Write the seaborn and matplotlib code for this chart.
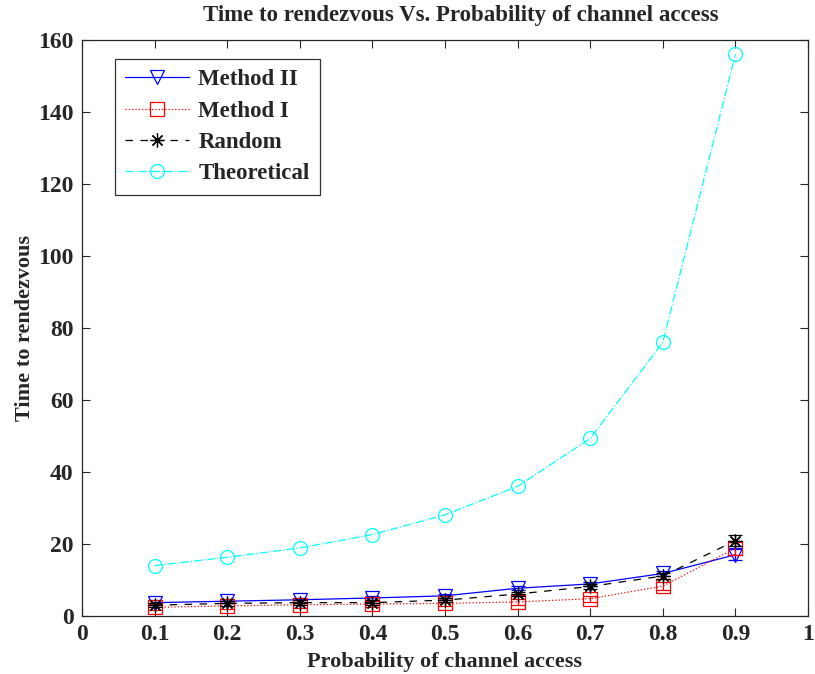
import seaborn as sns
import matplotlib.pyplot as plt
from matplotlib.lines import Line2D
import pandas as pd

prob = [0.1, 0.2, 0.3, 0.4, 0.5, 0.6, 0.7, 0.8, 0.9]
method2 = [3.7, 4.1, 4.5, 5.0, 5.6, 7.7, 8.9, 11.8, 17.0]
method2_err = [0.6, 0.6, 0.6, 0.6, 0.6, 0.6, 0.6, 0.8, 1.5]
method1 = [2.4, 2.8, 3.1, 3.3, 3.5, 3.9, 4.8, 8.3, 18.8]
method1_err = [0.8, 0.8, 0.8, 0.8, 0.8, 0.8, 0.8, 1.0, 1.8]
random_ = [3.0, 3.5, 3.7, 3.7, 4.4, 6.1, 8.2, 11.1, 20.9]
random_err = [0.6, 0.6, 0.6, 0.6, 0.6, 0.6, 0.6, 0.8, 1.5]
theory = [14.0, 16.3, 18.9, 22.6, 28.1, 36.0, 49.3, 76.0, 156.0]

series = [
    ("Method II", method2, method2_err, "blue", "v", "-"),
    ("Method I", method1, method1_err, "red", "s", ":"),
    ("Random", random_, random_err, "black", (8, 2, 0), (0, (6, 6))),
    ("Theoretical", theory, None, "cyan", "o", "-."),
]

sns.set_style("ticks")
plt.rcParams["font.family"] = ["Liberation Serif", "DejaVu Serif"]
plt.rcParams["font.weight"] = "bold"

fig = plt.figure(figsize=(8.15, 6.74), dpi=100)
ax = fig.add_axes([0.1006, 0.0861, 0.8908, 0.8546])

handles = []
for name, vals, err, col, mk, ls in series:
    df = pd.DataFrame({"p": prob, "t": vals})
    sns.lineplot(data=df, x="p", y="t", ax=ax, color=col, linestyle=ls,
                 linewidth=0.9, marker=mk, markersize=10,
                 markerfacecolor="none", markeredgecolor=col,
                 markeredgewidth=0.9, legend=False)
    if err is not None:
        ax.errorbar(prob, vals, yerr=err, fmt="none", ecolor=col,
                    elinewidth=0.9, capsize=5, capthick=0.9)
    handles.append(Line2D([], [], color=col, linestyle=ls, linewidth=0.9,
                          marker=mk, markersize=10, markerfacecolor="none",
                          markeredgecolor=col, markeredgewidth=0.9, label=name))

ax.set_xlim(0, 1)
ax.set_ylim(0, 160)
ax.set_xticks([0, 0.1, 0.2, 0.3, 0.4, 0.5, 0.6, 0.7, 0.8, 0.9, 1])
ax.set_xticklabels(["0", "0.1", "0.2", "0.3", "0.4", "0.5", "0.6", "0.7", "0.8", "0.9", "1"])
ax.set_yticks(range(0, 161, 20))
ax.tick_params(direction="in", length=6, width=0.8, labelsize=17,
               top=True, right=True, pad=6)
for lab in ax.get_xticklabels() + ax.get_yticklabels():
    lab.set_fontweight("bold")
for s in ax.spines.values():
    s.set_linewidth(0.9)

ax.set_xlabel("Probability of channel access", fontsize=16, fontweight="bold", labelpad=5)
ax.set_ylabel("Time to rendezvous", fontsize=16, fontweight="bold", labelpad=2)
ax.set_title("Time to rendezvous Vs. Probability of channel access",
             fontsize=16.5, fontweight="bold", pad=14, x=0.522)

leg = ax.legend(handles=handles, loc="upper left", bbox_to_anchor=(0.045, 0.967),
                borderaxespad=0, fontsize=16.5, frameon=True, fancybox=False,
                edgecolor="black", handlelength=2.8, borderpad=0.45,
                labelspacing=0.45, handletextpad=0.4)
leg.get_frame().set_linewidth(0.9)
for t in leg.get_texts():
    t.set_fontweight("bold")

fig.savefig("out.png", dpi=100)
